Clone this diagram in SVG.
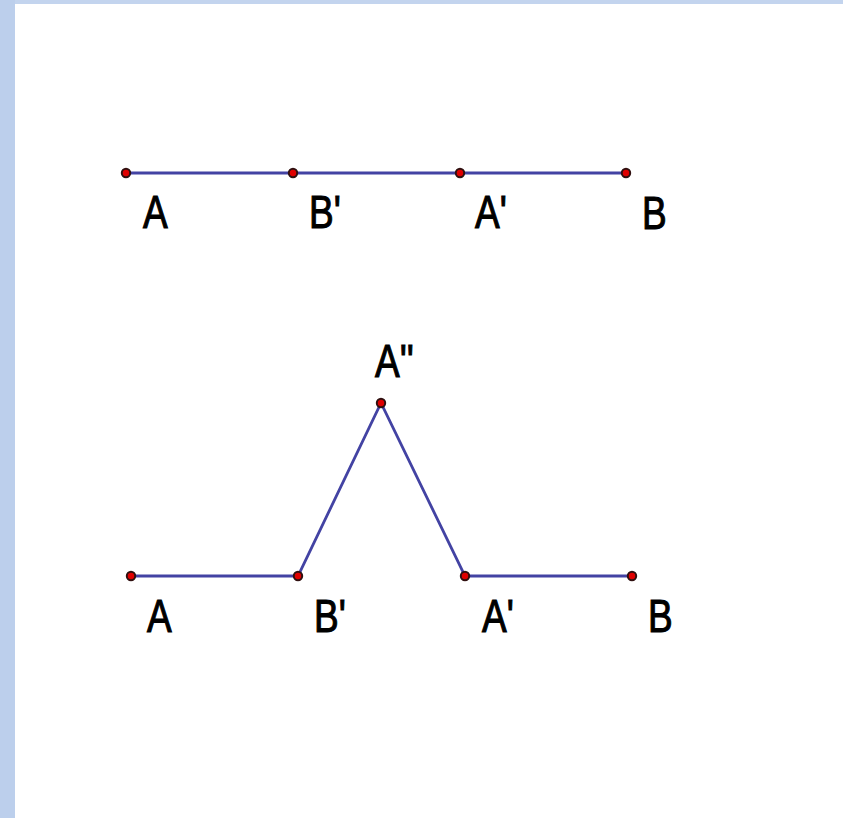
<svg xmlns="http://www.w3.org/2000/svg" width="843" height="818" viewBox="0 0 843 818">
<style>
.seg{stroke:#4343a3;stroke-width:2.8;fill:none;stroke-linecap:round}
.pt{fill:#e00000;stroke:#301010;stroke-width:2}
.lbl{font-family:"Liberation Sans",Arial,sans-serif;font-size:37px;fill:#000;stroke:#000;stroke-width:0.9}
</style>
<rect x="0" y="0" width="843" height="818" fill="#ffffff"/>
<rect x="0" y="0" width="843" height="4" fill="#c3d4ee"/>
<rect x="0" y="0" width="15" height="818" fill="#bccfec"/>
<g id="connectors">
<line class="seg" x1="126" y1="173" x2="626" y2="173"/>
<polyline class="seg" points="131,576 298,576 381,403 465,576 632,576"/>
</g>
<g id="top-A"><circle class="pt" cx="126" cy="173" r="4.2"/><text class="lbl" transform="translate(143,228) scale(1,1.24)">A</text></g>
<g id="top-B1"><circle class="pt" cx="293" cy="173" r="4.2"/><text class="lbl" transform="translate(309,228) scale(1,1.24)">B'</text></g>
<g id="top-A1"><circle class="pt" cx="460" cy="173" r="4.2"/><text class="lbl" transform="translate(475,228) scale(1,1.24)">A'</text></g>
<g id="top-B"><circle class="pt" cx="626" cy="173" r="4.2"/><text class="lbl" transform="translate(642,229) scale(1,1.24)">B</text></g>
<g id="bot-A"><circle class="pt" cx="131" cy="576" r="4.2"/><text class="lbl" transform="translate(147,632) scale(1,1.24)">A</text></g>
<g id="bot-B1"><circle class="pt" cx="298" cy="576" r="4.2"/><text class="lbl" transform="translate(314,632) scale(1,1.24)">B'</text></g>
<g id="bot-A2"><circle class="pt" cx="381" cy="403" r="4.2"/><text class="lbl" transform="translate(375,377) scale(1,1.24)">A''</text></g>
<g id="bot-A1"><circle class="pt" cx="465" cy="576" r="4.2"/><text class="lbl" transform="translate(482,632) scale(1,1.24)">A'</text></g>
<g id="bot-B"><circle class="pt" cx="632" cy="576" r="4.2"/><text class="lbl" transform="translate(648,632) scale(1,1.24)">B</text></g>
</svg>
